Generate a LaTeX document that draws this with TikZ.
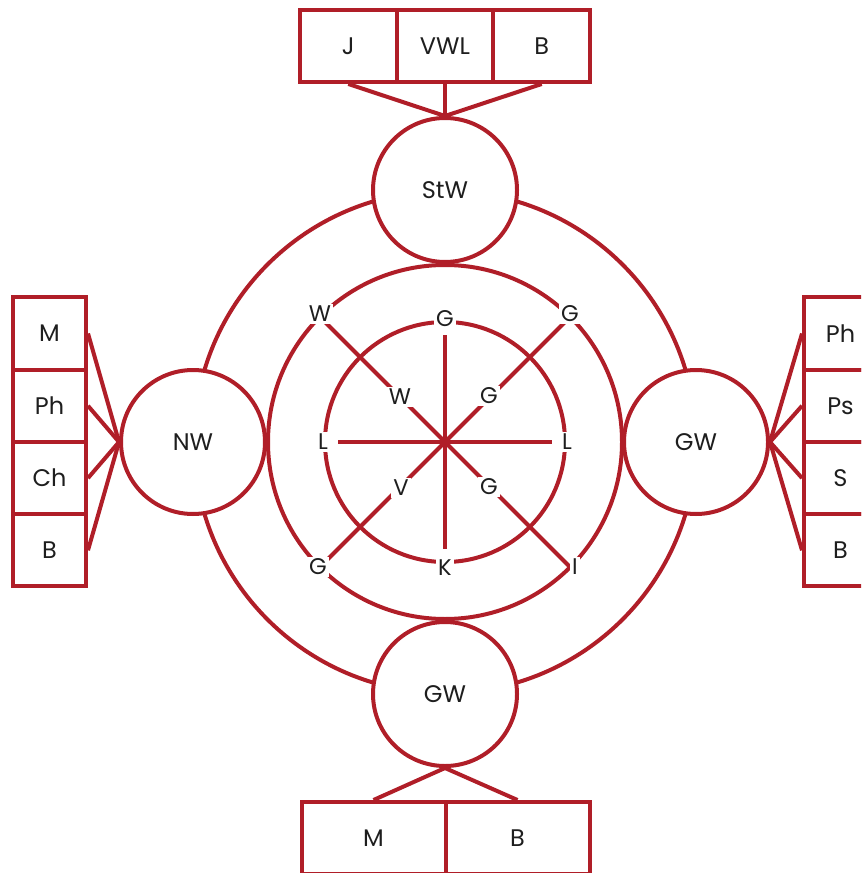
\documentclass[tikz,border=0pt]{standalone}
\usepackage{fontspec}
\setmainfont{Poppins}
\usepackage{tikz}

\definecolor{wred}{RGB}{176,30,40}
\definecolor{wtext}{RGB}{30,30,30}

\tikzset{
  ring/.style={draw=wred,line width=3pt},
  bubble/.style={circle,draw=wred,line width=3pt,fill=white,minimum size=108pt,inner sep=0pt,text=wtext,font=\fontsize{18}{21}\selectfont},
  cell/.style={rectangle,draw=wred,line width=3pt,fill=white,inner sep=0pt,text=wtext,font=\fontsize{18}{21}\selectfont},
  tag/.style={fill=white,inner sep=1.5pt,text=wtext,font=\fontsize{17}{20}\selectfont},
  link/.style={draw=wred,line width=3pt}
}

\begin{document}
\begin{tikzpicture}[x=0.75pt,y=0.75pt,yscale=-1,xscale=1]
\useasboundingbox (0,0) rectangle (861,873);
\clip (0,0) rectangle (861,873);

%Shape: Circle outer
\draw[ring] (445,442) circle (251);
%Shape: Circle middle
\draw[ring] (445,442) circle (177);
%Shape: Circle inner
\draw[ring] (445,442) circle (120);

%Straight Lines
\draw[link] (338,442) -- (552,442) ;
\draw[link] (445,335) -- (445,549) ;
\draw[link] (320,317) -- (570,567) ;
\draw[link] (570,317) -- (320,567) ;

% Text Node
\node[tag] (w1) at (320,314) {W};
\node[tag] (g1) at (445,319) {G};
\node[tag] (g2) at (570,314) {G};
\node[tag] (w2) at (400,397) {W};
\node[tag] (g3) at (489,396) {G};
\node[tag] (l1) at (323,442) {L};
\node[tag] (l2) at (567,442) {L};
\node[tag] (v1) at (401,488) {V};
\node[tag] (g4) at (489,487) {G};
\node[tag] (g5) at (318,567) {G};
\node[tag] (k1) at (445,568) {K};
\node[tag] (i1) at (575,567) {I};

%Shape: Circle nodes
\node[bubble] (stw) at (445,190) {StW};
\node[bubble] (nw) at (193,442) {NW};
\node[bubble] (gwr) at (696,442) {GW};
\node[bubble] (gwb) at (445,694) {GW};

%Shape: Rectangle top
\node[cell,minimum width=72.5pt,minimum height=54pt] (j) at (348.3,46) {J};
\node[cell,minimum width=72.5pt,minimum height=54pt] (vwl) at (445,46) {VWL};
\node[cell,minimum width=72.5pt,minimum height=54pt] (bt) at (541.7,46) {B};
\draw[link] (j.south) -- (stw.north) ;
\draw[link] (vwl.south) -- (stw.north) ;
\draw[link] (bt.south) -- (stw.north) ;

%Shape: Rectangle left
\node[cell,minimum width=54.75pt,minimum height=54.2pt] (ml) at (49.5,333.5) {M};
\node[cell,minimum width=54.75pt,minimum height=54.2pt] (phl) at (49.5,405.8) {Ph};
\node[cell,minimum width=54.75pt,minimum height=54.2pt] (chl) at (49.5,478.1) {Ch};
\node[cell,minimum width=54.75pt,minimum height=54.2pt] (bl) at (49.5,550.3) {B};
\draw[link] (ml.east) -- (nw.west) ;
\draw[link] (phl.east) -- (nw.west) ;
\draw[link] (chl.east) -- (nw.west) ;
\draw[link] (bl.east) -- (nw.west) ;

%Shape: Rectangle right
\node[cell,minimum width=54.75pt,minimum height=54.2pt] (phr) at (840.5,333.5) {Ph};
\node[cell,minimum width=54.75pt,minimum height=54.2pt] (psr) at (840.5,405.8) {Ps};
\node[cell,minimum width=54.75pt,minimum height=54.2pt] (sr) at (840.5,478.1) {S};
\node[cell,minimum width=54.75pt,minimum height=54.2pt] (br) at (840.5,550.3) {B};
\draw[link] (phr.west) -- (gwr.east) ;
\draw[link] (psr.west) -- (gwr.east) ;
\draw[link] (sr.west) -- (gwr.east) ;
\draw[link] (br.west) -- (gwr.east) ;

%Shape: Rectangle bottom
\node[cell,minimum width=108pt,minimum height=54pt] (mb) at (373.5,838) {M};
\node[cell,minimum width=108pt,minimum height=54pt] (bb) at (517.5,838) {B};
\draw[link] (mb.north) -- (gwb.south) ;
\draw[link] (bb.north) -- (gwb.south) ;

\end{tikzpicture}
\end{document}
